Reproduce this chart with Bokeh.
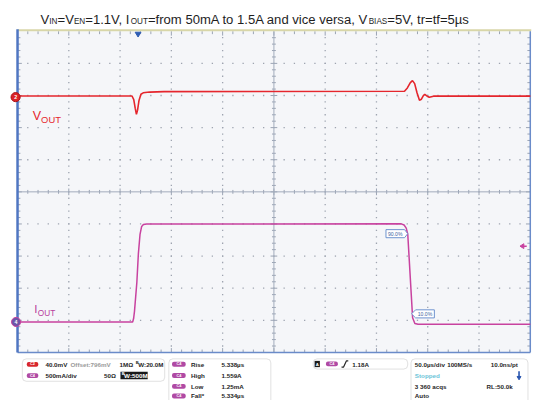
from bokeh.plotting import figure
from bokeh.models import Range1d, BoxAnnotation
from bokeh.core.properties import value
from bokeh.embed import file_html
from bokeh.resources import INLINE

# ---------------- data ----------------
# time relative to the trigger point (µs), 50 µs/div
vout_time_us = [-117.5, -5.9, -4.2, -2.8, -1.6, -0.5, 0.9, 2.8, 5.0, 11.3, 25.3,
                259.8, 262.6, 265.5, 267.6, 269.7, 272.0, 274.4, 276.3, 278.2,
                279.6, 281.9, 284.0, 288.0, 382.5]
vout_mv = [797.4, 797.4, 793.0, 782.2, 774.7, 779.8, 791.8, 799.6, 801.4, 802.3, 802.9,
           803.4, 807.4, 814.0, 816.6, 812.8, 801.4, 792.2, 793.4, 797.8,
           799.4, 797.2, 795.8, 797.2, 797.2]

iout_time_us = [-117.5, -5.3, -4.4, -3.5, -1.2, 0.3, 1.9, 3.5, 5.2, 8.4,
                256.7, 259.4, 261.5, 263.0, 267.7, 269.9, 273.0, 382.5]
iout_a = [0.0, 0.0, 0.049, 0.165, 0.614, 1.063, 1.362, 1.487, 1.517, 1.524,
          1.527, 1.509, 1.461, 1.362, 0.064, -0.025, -0.036, -0.036]

# scope settings
time_per_div_us = 50.0
vout_mv_per_div = 40.0
vout_offset_mv = 796.0
iout_a_per_div = 0.5
trigger_level_a = 1.18
ref_levels = ["90.0%", "10.0%"]

# texts
title_parts = [("V", False), ("IN", True), ("=V", False), ("EN", True),
               ("=1.1V, I", False), ("OUT", True),
               ("=from 50mA to 1.5A and vice versa, V", False), ("BIAS", True),
               ("=5V, tr=tf=5µs", False)]
meas_labels = ["Rise", "High", "Low", "Fall*"]
meas_values = ["5.338µs", "1.559A", "1.25mA", "5.334µs"]

# ---------------- layout (reference pixels, scaled to the figure) ----------------
REF_W, REF_H = 553, 416
W, H = 532, 400
SX, SY = W / REF_W, H / REF_H
FS = SY
SCR_L, SCR_R, SCR_T, SCR_B = 17.7, 550.7, 32.0, 366.0
DIV_X = (SCR_R - SCR_L) / 10
DIV_Y = (SCR_B - SCR_T) / 10
CX, CY = (SCR_L + SCR_R) / 2, (SCR_T + SCR_B) / 2
TRIG_X, CH2_Y, CH4_Y = 143.0, 100.5, 334.3


def X(px):
    return px * SX


def Y(py):
    return py * SY


us_px = time_per_div_us / DIV_X
mv_px = vout_mv_per_div / DIV_Y
a_px = iout_a_per_div / DIV_Y

p = figure(width=W, height=H, x_range=Range1d(0, W), y_range=Range1d(H, 0),
           output_backend="svg", toolbar_location=None, min_border=0,
           x_axis_type=None, y_axis_type=None)
p.outline_line_color = None
p.background_fill_color = "white"
p.border_fill_color = "white"
p.grid.visible = False
p.extra_x_ranges = {"t": Range1d((0 - TRIG_X) * us_px, (REF_W - TRIG_X) * us_px)}
p.extra_y_ranges = {
    "v": Range1d(vout_offset_mv - (REF_H - CH2_Y) * mv_px, vout_offset_mv + CH2_Y * mv_px),
    "i": Range1d(-(REF_H - CH4_Y) * a_px, CH4_Y * a_px),
}

FONT = value("Liberation Sans")
AW = {' ': 278, ',': 278, '.': 278, '=': 584, 'A': 667, 'B': 667, 'E': 667, 'I': 278,
      'N': 722, 'O': 778, 'S': 667, 'T': 611, 'U': 722, 'V': 667, 'a': 556, 'c': 500,
      'd': 556, 'e': 556, 'f': 278, 'i': 222, 'm': 833, 'n': 556, 'o': 556, 'r': 333,
      's': 500, 't': 278, 'v': 500, 'µ': 576}


def tw(s, size):
    # width in reference pixels of text drawn at reference font size `size`
    return sum(AW.get(c, 556) for c in s) * size / 1000.0


def txt(x, y, s, size, color="#262626", bold=False, align="left", baseline="middle"):
    p.text(x=[X(x)], y=[Y(y)], text=[s], text_font=FONT, text_font_size=f"{size * FS:.2f}px",
           text_color=color, text_align=align, text_baseline=baseline,
           text_font_style="bold" if bold else "normal")


def box(l, r, t, b, fill, line=None, radius=0, lw=1):
    p.add_layout(BoxAnnotation(left=X(l), right=X(r), top=Y(t), bottom=Y(b),
                               fill_color=fill, fill_alpha=1.0 if fill else 0,
                               line_color=line, line_width=lw, border_radius=int(radius),
                               level="underlay"))


# screen background
box(SCR_L, SCR_R, SCR_T, SCR_B, "#f5f6f9")

# dotted graticule
gx, gy = [], []
for k in range(1, 10):
    if k == 5:
        continue
    for j in range(1, 50):
        gx.append(X(SCR_L + j * DIV_X / 5)); gy.append(Y(SCR_T + k * DIV_Y))
        gx.append(X(SCR_L + k * DIV_X)); gy.append(Y(SCR_T + j * DIV_Y / 5))
p.scatter(gx, gy, marker="square", size=1.3, fill_color="#9ea4b0", line_color=None)

# ticks on border and center lines
x0, y0, x1, y1 = [], [], [], []
for j in range(1, 50):
    xx = SCR_L + j * DIV_X / 5
    yy = SCR_T + j * DIV_Y / 5
    ln = 4.5 if j % 5 == 0 else 3.0
    lc = 3.5 if j % 5 == 0 else 2.0
    for a in [(xx, SCR_T, xx, SCR_T + ln), (xx, SCR_B, xx, SCR_B - ln),
              (SCR_L, yy, SCR_L + ln, yy), (SCR_R, yy, SCR_R - ln, yy),
              (xx, CY - lc, xx, CY + lc), (CX - lc, yy, CX + lc, yy)]:
        x0.append(X(a[0])); y0.append(Y(a[1])); x1.append(X(a[2])); y1.append(Y(a[3]))
p.segment(x0, y0, x1, y1, line_color="#9ba4b4", line_width=1)
p.segment([X(SCR_L), X(CX)], [Y(CY), Y(SCR_T)], [X(SCR_R), X(CX)], [Y(CY), Y(SCR_B)],
          line_color="#a3acbc", line_width=1)

# borders
p.segment([X(SCR_L)], [Y(SCR_T - 1)], [X(SCR_R + 1)], [Y(SCR_T - 1)], line_color="#d8d6a8", line_width=2)
p.segment([X(SCR_R)], [Y(SCR_T)], [X(SCR_R)], [Y(SCR_B)], line_color="#6a8bc9", line_width=1.5)
p.segment([X(SCR_L)], [Y(SCR_B)], [X(SCR_R)], [Y(SCR_B)], line_color="#6a8bc9", line_width=1.5)
p.segment([X(SCR_L)], [Y(SCR_T - 2)], [X(SCR_L)], [Y(SCR_B)], line_color="#4f76c2", line_width=2.5)

# waveforms
p.line(vout_time_us, vout_mv, x_range_name="t", y_range_name="v", line_color="#e5262d", line_width=1.6)
p.line(iout_time_us, iout_a, x_range_name="t", y_range_name="i", line_color="#c8429f", line_width=1.5)

# 90% / 10% reference-level flags on the falling edge
BL = "#6f93cf"
p.patch([X(400.7), X(420.0), X(423.3), X(420.0), X(400.7)],
        [Y(238.3), Y(238.3), Y(242.5), Y(246.7), Y(246.7)],
        fill_color="white", line_color=BL, line_width=1)
txt(410.3, 242.7, ref_levels[0], 5.3, color="#3d5f9e", align="center")
p.patch([X(427.3), X(431.5), X(451.0), X(451.0), X(431.5)],
        [Y(325.9), Y(321.7), Y(321.7), Y(330.1), Y(330.1)],
        fill_color="white", line_color=BL, line_width=1)
txt(441.2, 326.1, ref_levels[1], 5.3, color="#3d5f9e", align="center")

# markers: trigger position, trigger level, channel grounds
p.patch([X(TRIG_X - 3), X(TRIG_X + 3), X(TRIG_X)], [Y(33), Y(33), Y(38)], fill_color="#2f5db3", line_color="#2f5db3")
tl_y = CH4_Y - trigger_level_a / a_px
p.patch([X(540), X(544), X(544)], [Y(tl_y), Y(tl_y - 2.5), Y(tl_y + 2.5)], fill_color="#c8429f", line_color="#c8429f")
p.segment([X(543)], [Y(tl_y)], [X(547)], [Y(tl_y)], line_color="#c8429f", line_width=1.5)
p.scatter([X(15.7)], [Y(CH2_Y)], size=9.5 * FS, fill_color="#dc2327", line_color="#a8141a")
txt(15.7, CH2_Y + 0.3, "2", 5.5, color="white", bold=True, align="center")
p.scatter([X(16.2)], [Y(CH4_Y)], size=9.5 * FS, fill_color="#6c56a8", line_color="#c8429f")
txt(16.2, CH4_Y + 0.3, "4", 5.5, color="white", bold=True, align="center")

# channel labels
txt(33.5, 120.3, "V", 13, color="#e5262d", baseline="alphabetic")
txt(33.5 + tw("V", 13), 123.5, "OUT", 9.8, color="#e5262d", baseline="alphabetic")
txt(35.0, 320.7, "I", 12, color="#b8409d", baseline="alphabetic")
txt(35.0 + tw("I", 12) + 0.5, 325.0, "OUT", 8.6, color="#b8409d", baseline="alphabetic")

# title
tx = 41.7
for s, sub in title_parts:
    size = 8.5 if sub else 13.6
    txt(tx, 22.2 if sub else 19.3, s, size, color="#1e1e1e", baseline="alphabetic")
    tx += tw(s, size)

# ---------------- info panel ----------------
rows = [378.3, 390.0, 401.3, 411.3]
box(22.7, 170.7, 372.7, 396.0, "white", "#9c9c9c", 4)
box(175.0, 281.0, 372.7, 440.0, "white", "#9c9c9c", 4)
box(325.0, 423.3, 372.7, 383.3, "white", "#9c9c9c", 4)
box(426.7, 548.3, 372.7, 440.0, "white", "#9c9c9c", 4)

RED, PUR = "#d7262c", "#b04aa4"
box(27.3, 39.3, 376.0, 381.0, RED, None, 2)
box(27.3, 39.3, 387.6, 392.6, PUR, None, 2)
txt(33.3, rows[0], "C2", 4, color="white", bold=True, align="center")
txt(33.3, rows[1] + 0.1, "C4", 4, color="white", bold=True, align="center")
txt(46.7, rows[0], "40.0mV", 6.5, bold=True)
txt(72.7, rows[0], "Offset:796mV", 6.5, color="#9a9a9a", bold=True)
txt(123.7, rows[0], "1MΩ", 6.5, bold=True)
txt(140.7, rows[0] - 2.0, "B", 4.2, bold=True)
txt(143.2, rows[0] + 0.5, "W:20.0M", 6.5, bold=True)
txt(46.7, rows[1], "500mA/div", 6.5, bold=True)
txt(107.7, rows[1], "50Ω", 6.5, bold=True)
box(124.7, 153.0, 386.0, 394.0, "#1a1a1a", None, 0)
txt(126.0, rows[1] - 2.0, "B", 4.2, color="white", bold=True)
txt(128.5, rows[1] + 0.5, "W:500M", 6.5, color="white", bold=True)

for r, lab, val in zip(rows, meas_labels, meas_values):
    box(178.3, 192.5, r - 2.5, r + 2.5, PUR, None, 2)
    txt(185.4, r, "C4", 4, color="white", bold=True, align="center")
    txt(198.0, r, lab, 6.5, bold=True)
    txt(229.7, r, val, 6.5, bold=True)

box(326.5, 332.0, 374.8, 381.3, "#1a1a1a", None, 0)
txt(329.3, 378.1, "A", 4.5, color="white", bold=True, align="center")
box(338.3, 350.7, 375.5, 380.5, PUR, None, 2)
txt(344.5, 378.1, "C4", 4, color="white", bold=True, align="center")
p.line([X(354.5), X(356.5), X(359.5), X(361.5)], [Y(381.3), Y(381.3), Y(374.8), Y(374.8)],
       line_color="#262626", line_width=1.2)
txt(365.7, rows[0], "1.18A", 6.5, bold=True)

txt(430.7, rows[0], "50.0µs/div", 6.5, bold=True)
txt(464.3, rows[0], "100MS/s", 6.5, bold=True)
txt(537.7, rows[0], "10.0ns/pt", 6.5, bold=True, align="right")
txt(430.7, rows[1], "Stopped", 6.5, color="#6cc4d8", bold=True)
p.segment([X(539.0)], [Y(rows[1] - 4.5)], [X(539.0)], [Y(rows[1] + 1.5)], line_color="#2a56b0", line_width=1.6)
p.patch([X(537.0), X(541.0), X(539.0)], [Y(rows[1] + 1.0), Y(rows[1] + 1.0), Y(rows[1] + 4.5)],
        fill_color="#2a56b0", line_color="#2a56b0")
txt(430.7, rows[2], "3 360 acqs", 6.5, bold=True)
txt(505.3, rows[2], "RL:50.0k", 6.5, bold=True)
txt(430.7, rows[3], "Auto", 6.5, bold=True)

open("out.html", "w").write(file_html(p, INLINE))
